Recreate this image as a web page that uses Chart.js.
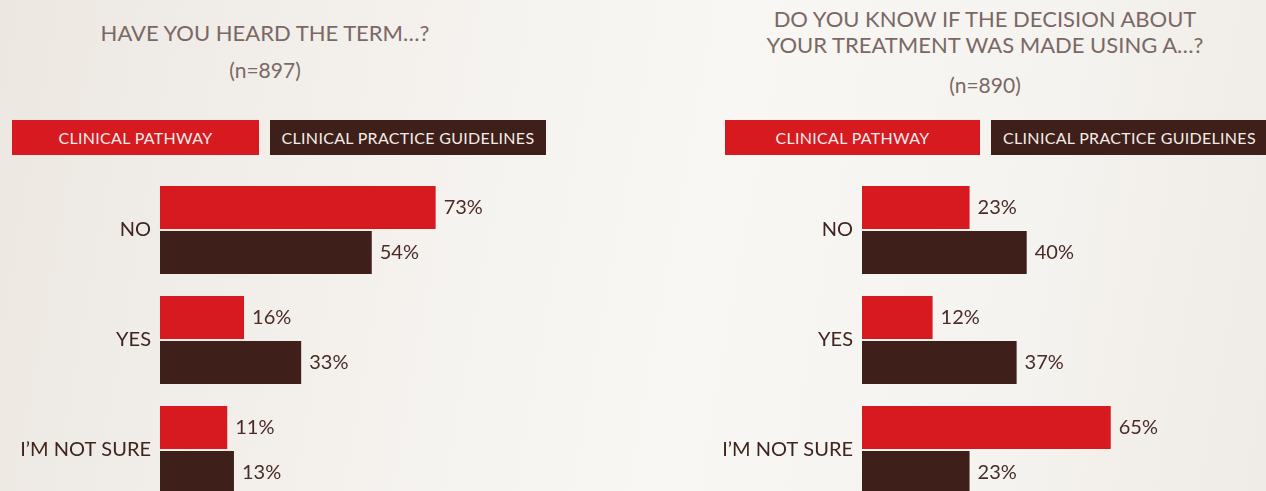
<!DOCTYPE html>
<html>
<head>
<meta charset="utf-8">
<script src="https://cdn.jsdelivr.net/npm/chart.js@4"></script>
<style>
    html, body { margin: 0; padding: 0; }
    body {
        width: 1266px; height: 491px; overflow: hidden; position: relative;
        font-family: Lato, "Open Sans", sans-serif;
        background: linear-gradient(100deg, #ece7e1 0%, #f4f1ed 30%, #f8f7f4 55%, #f5f3ef 80%, #efebe6 100%);
    }
    .title, .n { position: absolute; text-align: center; color: #7a6864; white-space: nowrap; }
    .title { font-size: 22px; line-height: 26px; }
    .n { font-size: 21px; line-height: 26px; }
    .legend span {
        position: absolute; top: 120px; height: 35px; line-height: 35px;
        text-align: center; color: #f4ede9; font-size: 16px; letter-spacing: 0.3px;
    }
    canvas { position: absolute; top: 145px; }
</style>
</head>
<body>
<div class="title" id="title1" style="left:65px; width:400px; top:20px;"></div>
<div class="n" id="n1" style="left:165px; width:200px; top:57px;"></div>
<div class="title" id="title2" style="left:735px; width:500px; top:6px;"></div>
<div class="n" id="n2" style="left:885px; width:200px; top:72px;"></div>
<div class="legend" id="legend1"></div>
<div class="legend" id="legend2"></div>
<canvas id="chart1" width="560" height="390" style="left:0;"></canvas>
<canvas id="chart2" width="560" height="390" style="left:702px;"></canvas>
<script>
// Chart data
const categories = ['NO', 'YES', 'I’M NOT SURE'];
const seriesNames = ['CLINICAL PATHWAY', 'CLINICAL PRACTICE GUIDELINES'];
const seriesColors = ['#d71920', '#3e1f19'];

const heardTitle = ['HAVE YOU HEARD THE TERM…?'];
const heardN = '(n=897)';
const heardPathway = [73, 16, 11];
const heardGuidelines = [54, 33, 13];

const knowTitle = ['DO YOU KNOW IF THE DECISION ABOUT', 'YOUR TREATMENT WAS MADE USING A…?'];
const knowN = '(n=890)';
const knowPathway = [23, 12, 65];
const knowGuidelines = [40, 37, 23];

// Titles
document.getElementById('title1').innerHTML = heardTitle.join('<br>');
document.getElementById('n1').textContent = heardN;
document.getElementById('title2').innerHTML = knowTitle.join('<br>');
document.getElementById('n2').textContent = knowN;

// Percent labels at the end of each bar
const valueLabels = {
    id: 'valueLabels',
    afterDatasetsDraw(chart) {
        const ctx = chart.ctx;
        ctx.save();
        ctx.font = '20px Lato';
        ctx.fillStyle = '#4a2b26';
        ctx.textAlign = 'left';
        ctx.textBaseline = 'middle';
        chart.data.datasets.forEach((ds, i) => {
            chart.getDatasetMeta(i).data.forEach((bar, j) => {
                ctx.fillText(ds.data[j] + '%', bar.x + 8, bar.y);
            });
        });
        ctx.restore();
    }
};

function makeChart(canvasId, pathway, guidelines) {
    return new Chart(document.getElementById(canvasId).getContext('2d'), {
        type: 'bar',
        data: {
            labels: categories,
            datasets: [pathway, guidelines].map((values, i) => ({
                label: seriesNames[i],
                data: values,
                backgroundColor: seriesColors[i],
                base: -9,
                categoryPercentage: 0.82,
                barPercentage: 0.955
            }))
        },
        options: {
            indexAxis: 'y',
            responsive: false,
            animation: false,
            layout: { padding: { top: 30, bottom: 30, left: 0, right: 0 } },
            plugins: {
                legend: { display: false },
                tooltip: { enabled: false }
            },
            scales: {
                x: { display: false, min: -9, max: 110 },
                y: {
                    grid: { display: false, drawTicks: false },
                    border: { display: false },
                    ticks: {
                        padding: 9,
                        color: '#3f2420',
                        font: { family: 'Lato', size: 20 }
                    },
                    afterFit: (scale) => { scale.width = 160; }
                }
            }
        },
        plugins: [valueLabels]
    });
}

// HTML legend boxes built from the chart datasets
function buildLegend(chart, legendId, boxes) {
    const el = document.getElementById(legendId);
    chart.data.datasets.forEach((ds, i) => {
        const span = document.createElement('span');
        span.textContent = ds.label;
        span.style.background = ds.backgroundColor;
        span.style.left = boxes[i][0] + 'px';
        span.style.width = boxes[i][1] + 'px';
        el.appendChild(span);
    });
}

const heardChart = makeChart('chart1', heardPathway, heardGuidelines);
const knowChart = makeChart('chart2', knowPathway, knowGuidelines);

buildLegend(heardChart, 'legend1', [[12, 247], [270, 276]]);
buildLegend(knowChart, 'legend2', [[725, 255], [991, 277]]);
</script>
</body>
</html>
